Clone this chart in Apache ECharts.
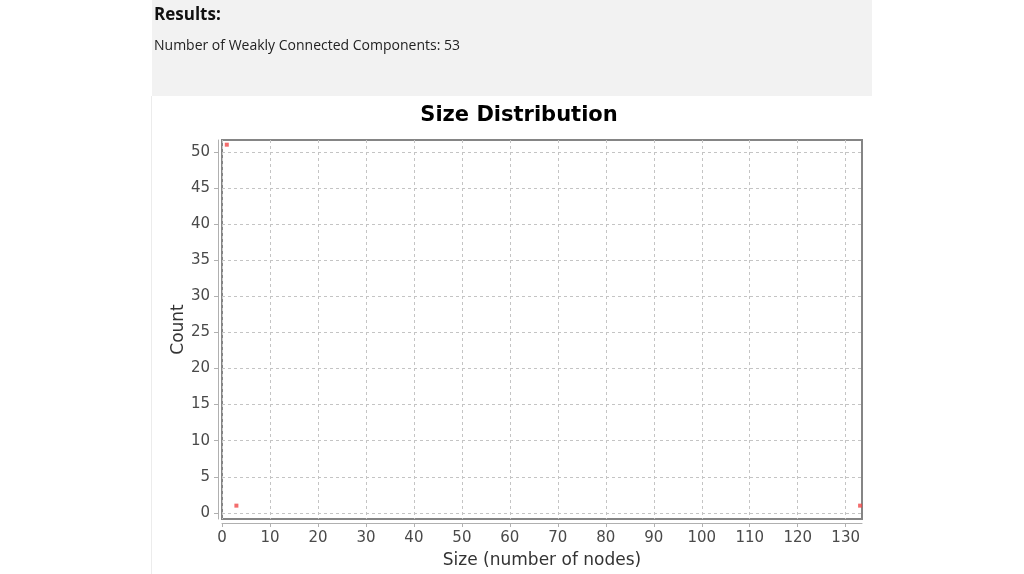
<!DOCTYPE html>
<html>
<head>
<meta charset="utf-8">
<script src="https://cdn.jsdelivr.net/npm/echarts@6/dist/echarts.min.js"></script>
<style>
  html, body { margin: 0; padding: 0; background: #fff; }
  #chart { width: 1024px; height: 574px; }
</style>
</head>
<body>
<div id="chart"></div>
<script>
// component sizes and how many components have that size
const sizes = [1, 3, 133];
const counts = [51, 1, 1];
const xTicks = [0, 10, 20, 30, 40, 50, 60, 70, 80, 90, 100, 110, 120, 130];
const yTicks = [0, 5, 10, 15, 20, 25, 30, 35, 40, 45, 50];
const componentCount = 53;

const points = sizes.map((s, i) => [s, counts[i]]);

const chart = echarts.init(document.getElementById('chart'), null, { renderer: 'canvas' });

const tickLabel = { fontFamily: 'DejaVu Sans', fontSize: 15, color: '#4a4a4a' };
const dashed = { show: true, lineStyle: { color: '#c4c4c4', type: [3, 3], width: 1 } };

chart.setOption({
  animation: false,
  backgroundColor: '#fff',
  graphic: [
    { type: 'rect', shape: { x: 152, y: 0, width: 720, height: 96 }, style: { fill: '#f2f2f2' } },
    { type: 'line', shape: { x1: 151.5, y1: 96, x2: 151.5, y2: 574 }, style: { stroke: '#ececec', lineWidth: 1 } },
    { type: 'text', left: 154, top: 7, style: { text: 'Results:', font: 'bold 17px "Open Sans"', fill: '#111' } },
    { type: 'text', left: 154, top: 39, style: { text: 'Number of Weakly Connected Components: ' + componentCount, font: '14px "Open Sans"', fill: '#222' } }
  ],
  title: {
    text: 'Size Distribution',
    left: 514, top: 100, textAlign: 'center',
    textStyle: { fontFamily: 'DejaVu Sans', fontWeight: 'bold', fontSize: 21, color: '#000' }
  },
  grid: { left: 222, top: 140, right: 162, bottom: 55, show: true, borderColor: '#858585', borderWidth: 2, backgroundColor: 'transparent' },
  xAxis: {
    type: 'value', min: 0, max: 133.4, offset: 4,
    name: 'Size (number of nodes)', nameLocation: 'middle', nameGap: 29, nameMoveOverlap: false,
    nameTextStyle: { fontFamily: 'DejaVu Sans', fontSize: 17, color: '#333' },
    axisLine: { show: true, onZero: false, lineStyle: { color: '#b0b0b0' } },
    axisTick: { show: true, length: 4, customValues: xTicks, lineStyle: { color: '#b0b0b0' } },
    axisLabel: Object.assign({ customValues: xTicks, margin: 8 }, tickLabel),
    splitLine: dashed
  },
  yAxis: {
    type: 'value', min: -0.85, max: 51.65, offset: 4,
    name: 'Count', nameLocation: 'middle', nameGap: 31, nameRotate: 90, nameMoveOverlap: false,
    nameTextStyle: { fontFamily: 'DejaVu Sans', fontSize: 17, color: '#333' },
    axisLine: { show: true, onZero: false, lineStyle: { color: '#b0b0b0' } },
    axisTick: { show: true, length: 4, customValues: yTicks, lineStyle: { color: '#b0b0b0' } },
    axisLabel: Object.assign({ customValues: yTicks, margin: 8 }, tickLabel),
    splitLine: dashed
  },
  series: [{
    type: 'scatter',
    data: points,
    symbol: 'rect',
    symbolSize: 4,
    itemStyle: { color: '#f04848' }
  }]
});
</script>
</body>
</html>
